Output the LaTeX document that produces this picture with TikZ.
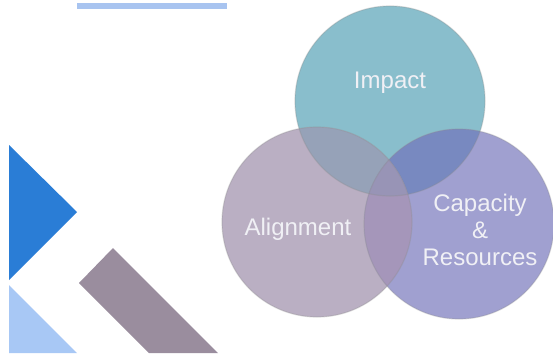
\documentclass[tikz,border=0pt]{standalone}
\usepackage{fontspec}
\setmainfont{Liberation Sans}
\definecolor{impC}{RGB}{137,190,204}
\definecolor{aliC}{RGB}{186,175,195}
\definecolor{capC}{RGB}{160,160,208}
\definecolor{iaC}{RGB}{150,162,184}
\definecolor{icC}{RGB}{120,137,192}
\definecolor{acC}{RGB}{165,150,186}
\definecolor{iacC}{RGB}{152,148,182}
\definecolor{dblue}{RGB}{42,125,214}
\definecolor{lblue}{RGB}{168,200,245}
\definecolor{barC}{RGB}{168,196,240}
\definecolor{greyC}{RGB}{154,141,158}
\definecolor{txtC}{RGB}{240,240,245}
\tikzset{
  venn/.style={circle, minimum size=190pt, inner sep=0pt},
  rim/.style={draw=black!45, draw opacity=0.3, line width=1.2pt},
  lbl/.style={text=txtC, font=\fontsize{24}{27}\selectfont, align=center, inner sep=0pt}
}
\begin{document}
\begin{tikzpicture}[x=1pt,y=-1pt]
\useasboundingbox (0,0) rectangle (553,353);
\fill[white] (0,0) rectangle (553,353);
% decorative shapes
\fill[barC] (77,3) rectangle (227,9);
\fill[dblue] (9,145) -- (77,212) -- (9,280) -- cycle;
\fill[lblue] (9,285) -- (77,353) -- (9,353) -- cycle;
\fill[greyC] (113,248) -- (218,353) -- (149,353) -- (79,283) -- cycle;
% venn circles
\coordinate (ci) at (390,101);
\coordinate (ca) at (317,222);
\coordinate (cc) at (459,224);
\node[venn, fill=impC] (impact) at (ci) {};
\node[venn, fill=aliC] (align) at (ca) {};
\node[venn, fill=capC] (capac) at (cc) {};
\begin{scope}
  \clip (ci) circle[radius=95pt];
  \fill[iaC] (ca) circle[radius=95pt];
  \fill[icC] (cc) circle[radius=95pt];
\end{scope}
\begin{scope}
  \clip (ca) circle[radius=95pt];
  \clip (cc) circle[radius=95pt];
  \fill[acC] (cc) circle[radius=95pt];
  \fill[iacC] (ci) circle[radius=95pt];
\end{scope}
\draw[rim] (ci) circle[radius=95pt];
\draw[rim] (ca) circle[radius=95pt];
\draw[rim] (cc) circle[radius=95pt];
% labels
\node[lbl] (timpact) at (390,83) {Impact};
\node[lbl] (talign) at (298,229) {Alignment};
\node[lbl] (tcap) at (480,230) {Capacity\\\&\\Resources};
\end{tikzpicture}
\end{document}
